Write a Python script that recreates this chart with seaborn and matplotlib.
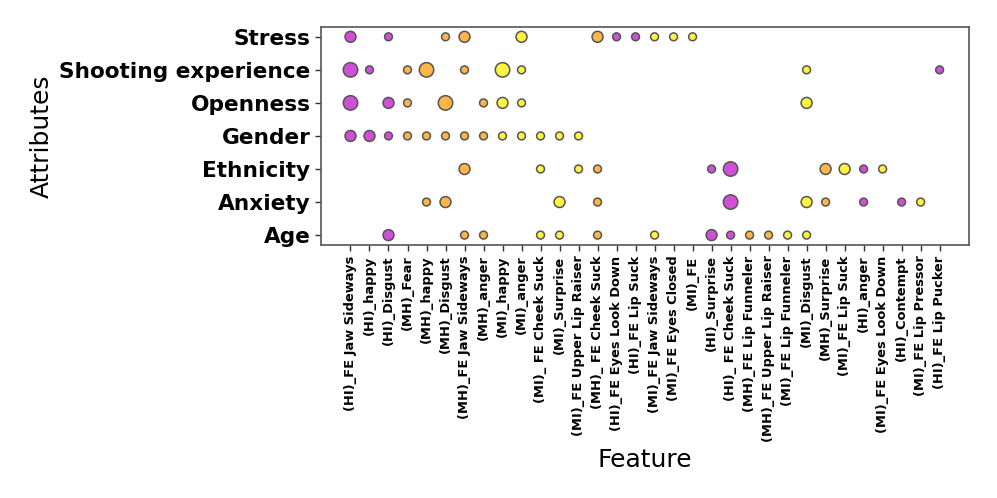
import pandas as pd
import matplotlib.pyplot as plt
import seaborn as sns

# x axis categories, in the order shown
features = ['(HI)_FE Jaw Sideways', '(HI)_happy', '(HI)_Disgust', '(MH)_Fear',
            '(MH)_happy', '(MH)_Disgust', '(MH)_FE Jaw Sideways', '(MH)_anger',
            '(MI)_happy', '(MI)_anger', '(MI)_ FE Cheek Suck', '(MI)_Surprise',
            '(MI)_FE Upper Lip Raiser', '(MH)_ FE Cheek Suck', '(HI)_FE Eyes Look Down',
            '(HI)_FE Lip Suck', '(MI)_FE Jaw Sideways', '(MI)_FE Eyes Closed', '(MI)_FE',
            '(HI)_Surprise', '(HI)_ FE Cheek Suck', '(MH)_FE Lip Funneler',
            '(MH)_FE Upper Lip Raiser', '(MI)_FE Lip Funneler', '(MI)_Disgust',
            '(MH)_Surprise', '(MI)_FE Lip Suck', '(HI)_anger', '(MI)_FE Eyes Look Down',
            '(HI)_Contempt', '(MI)_FE Lip Pressor', '(HI)_FE Lip Pucker']

# bottom to top
attributes = ['Age', 'Anxiety', 'Ethnicity', 'Gender', 'Openness',
              'Shooting experience', 'Stress']

# feature number (1-based) and size level for each attribute
stress_cols = [1, 3, 6, 7, 10, 14, 15, 16, 17, 18, 19]
stress_size = [2, 1, 1, 2, 2, 2, 1, 1, 1, 1, 1]
shooting_cols = [1, 2, 4, 5, 7, 9, 10, 25, 32]
shooting_size = [3, 1, 1, 3, 1, 3, 1, 1, 1]
openness_cols = [1, 3, 4, 6, 8, 9, 10, 25]
openness_size = [3, 2, 1, 3, 1, 2, 1, 2]
gender_cols = [1, 2, 3, 4, 5, 6, 7, 8, 9, 10, 11, 12, 13]
gender_size = [2, 2, 1, 1, 1, 1, 1, 1, 1, 1, 1, 1, 1]
ethnicity_cols = [7, 11, 13, 14, 20, 21, 26, 27, 28, 29]
ethnicity_size = [2, 1, 1, 1, 1, 3, 2, 2, 1, 1]
anxiety_cols = [5, 6, 12, 14, 21, 25, 26, 28, 30, 31]
anxiety_size = [1, 2, 2, 1, 3, 2, 1, 1, 1, 1]
age_cols = [3, 7, 8, 11, 12, 14, 17, 20, 21, 22, 23, 24, 25]
age_size = [2, 1, 1, 1, 1, 1, 1, 2, 1, 1, 1, 1, 1]

rows = []
for attr, cols, sizes in [('Stress', stress_cols, stress_size),
                          ('Shooting experience', shooting_cols, shooting_size),
                          ('Openness', openness_cols, openness_size),
                          ('Gender', gender_cols, gender_size),
                          ('Ethnicity', ethnicity_cols, ethnicity_size),
                          ('Anxiety', anxiety_cols, anxiety_size),
                          ('Age', age_cols, age_size)]:
    for c, s in zip(cols, sizes):
        rows.append({'Feature': features[c - 1], 'Attributes': attr, 'level': s})

df = pd.DataFrame(rows)
df['group'] = df['Feature'].str[1:3]
df['x'] = df['Feature'].map({f: i for i, f in enumerate(features)})
df['y'] = df['Attributes'].map({a: i for i, a in enumerate(attributes)})

sns.set_style('white')
plt.rcParams.update({'text.color': 'black', 'axes.labelcolor': 'black',
                     'xtick.color': 'black', 'ytick.color': 'black'})
fig, ax = plt.subplots(figsize=(9.97, 4.98), dpi=100)
fig.subplots_adjust(left=0.322, right=0.972, top=0.946, bottom=0.508)

palette = {'HI': '#d04fd6', 'MH': '#fdb548', 'MI': '#fef33f'}
sns.scatterplot(data=df, x='x', y='y', hue='group', size='level',
                palette=palette, sizes={1: 32, 2: 62, 3: 108},
                edgecolor='#555555', linewidth=1.1, legend=False, ax=ax)

ax.set_xticks(range(len(features)))
ax.set_xticklabels(features, rotation=90, fontsize=9.4, fontweight='bold')
ax.set_yticks(range(len(attributes)))
ax.set_yticklabels(attributes, fontsize=15.6, fontweight='bold')
ax.tick_params(axis='both', length=4, width=1, color='#333333', bottom=True, left=True)
for sp in ax.spines.values():
    sp.set_color('#555555')
    sp.set_linewidth(1.2)

ax.set_xlabel('Feature', fontsize=18)
ax.set_ylabel('Attributes', fontsize=18)

plt.savefig('out.png', dpi=100)
